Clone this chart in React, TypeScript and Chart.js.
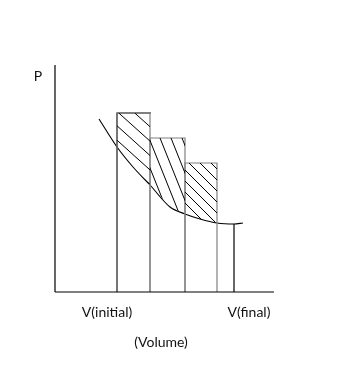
import React, { useEffect, useRef } from "react";
import { Chart, registerables } from "chart.js";

Chart.register(...registerables);

// Data (volume units, pressure units)
const binEdges = [3.1, 4.75, 6.5, 8.1];
const binPressures = [8.95, 7.7, 6.45];
const curveVolumes = [2.2, 3.1, 3.9, 4.75, 5.75, 6.5, 7.25, 8.1, 8.95, 9.4];
const curvePressures = [8.65, 7.25, 6.25, 5.35, 4.25, 3.9, 3.65, 3.45, 3.4, 3.45];
const vFinal = 8.95;
const pFinal = 3.4;
const axisMaxV = 10.95;
const axisMaxP = 11.35;
const pLabel = "P";
const vInitialLabel = "V(initial)";
const vFinalLabel = "V(final)";
const volumeLabel = "(Volume)";

const hatchPlugin = {
  id: "hatch",
  afterDatasetsDraw(chart: any) {
    const ctx = chart.ctx;
    const xs = chart.scales.x;
    const ys = chart.scales.y;
    const slopes = [0.9, 2.5, 1.0];
    const spacing = [16, 11, 11];
    const offsets = [0, 2, 6];
    ctx.save();
    const interp = (v: number) => {
      for (let k = 0; k < curveVolumes.length - 1; k++) {
        if (v >= curveVolumes[k] && v <= curveVolumes[k + 1]) {
          const f = (v - curveVolumes[k]) / (curveVolumes[k + 1] - curveVolumes[k]);
          return curvePressures[k] + f * (curvePressures[k + 1] - curvePressures[k]);
        }
      }
      return curvePressures[curvePressures.length - 1];
    };
    for (let i = 0; i < binPressures.length; i++) {
      const l = xs.getPixelForValue(binEdges[i]);
      const r = xs.getPixelForValue(binEdges[i + 1]);
      const t = ys.getPixelForValue(binPressures[i]);
      ctx.save();
      ctx.beginPath();
      ctx.moveTo(l, t);
      ctx.lineTo(r, t);
      const pts: [number, number][] = [];
      for (let k = 0; k < curveVolumes.length; k++) {
        if (curveVolumes[k] > binEdges[i] + 1e-6 && curveVolumes[k] < binEdges[i + 1] - 1e-6) {
          pts.push([xs.getPixelForValue(curveVolumes[k]), ys.getPixelForValue(curvePressures[k])]);
        }
      }
      ctx.lineTo(r, ys.getPixelForValue(interp(binEdges[i + 1])));
      for (let k = pts.length - 1; k >= 0; k--) ctx.lineTo(pts[k][0], pts[k][1]);
      ctx.lineTo(l, ys.getPixelForValue(interp(binEdges[i])));
      ctx.closePath();
      ctx.clip();
      ctx.strokeStyle = "#000";
      ctx.lineWidth = 1;
      const s = slopes[i];
      const h = 200;
      for (let x0 = l - h / s + offsets[i]; x0 < r + 10; x0 += spacing[i]) {
        ctx.beginPath();
        ctx.moveTo(x0, t);
        ctx.lineTo(x0 + h / s, t + h);
        ctx.stroke();
      }
      ctx.restore();
    }
    // labels
    ctx.fillStyle = "#111";
    ctx.font = "14px Lato, 'Liberation Sans', sans-serif";
    ctx.textAlign = "center";
    ctx.textBaseline = "middle";
    ctx.fillText(pLabel, 38, 76);
    ctx.fillText(vInitialLabel, 107, 312);
    ctx.fillText(vFinalLabel, 249, 312);
    ctx.fillText(volumeLabel, 161, 342);
    ctx.restore();
  },
};

export default function App() {
  const ref = useRef<HTMLCanvasElement>(null);
  useEffect(() => {
    document.body.style.margin = "0";
    const black = "#000";
    const gray = "#808080";
    const base = {
      pointRadius: 0,
      borderWidth: 1.2,
      fill: false,
      clip: false as any,
      tension: 0,
    };
    const datasets: any[] = [
      { ...base, data: [{ x: 0, y: 0 }, { x: 0, y: axisMaxP }], borderColor: black },
      { ...base, data: [{ x: 0, y: 0 }, { x: axisMaxV, y: 0 }], borderColor: black },
    ];
    for (let i = 0; i < binPressures.length; i++) {
      datasets.push({
        ...base,
        borderColor: gray,
        data: [
          { x: binEdges[i], y: 0 },
          { x: binEdges[i], y: binPressures[i] },
          { x: binEdges[i + 1], y: binPressures[i] },
          { x: binEdges[i + 1], y: 0 },
        ],
      });
    }
    datasets.push({
      ...base,
      borderColor: black,
      data: [
        { x: binEdges[0], y: 0 },
        { x: binEdges[0], y: binPressures[0] },
        { x: binEdges[1] + 0.05, y: binPressures[0] },
      ],
    });
    datasets.push({
      ...base,
      borderColor: black,
      data: [{ x: vFinal, y: 0 }, { x: vFinal, y: pFinal }],
    });
    datasets.push({
      ...base,
      borderColor: black,
      borderWidth: 1.1,
      cubicInterpolationMode: "monotone",
      data: curveVolumes.map((v, i) => ({ x: v, y: curvePressures[i] })),
    });
    const chart = new Chart(ref.current!, {
      type: "line",
      data: { datasets },
      options: {
        animation: false,
        responsive: false,
        devicePixelRatio: 1,
        layout: { padding: { left: 55, top: 65, right: 77, bottom: 73 } },
        plugins: { legend: { display: false }, tooltip: { enabled: false } },
        scales: {
          x: { type: "linear", min: 0, max: 11, display: false },
          y: { type: "linear", min: 0, max: axisMaxP, display: false },
        },
      },
      plugins: [hatchPlugin],
    });
    return () => chart.destroy();
  }, []);
  return <canvas ref={ref} width={352} height={365} style={{ display: "block", background: "#fff" }} />;
}
